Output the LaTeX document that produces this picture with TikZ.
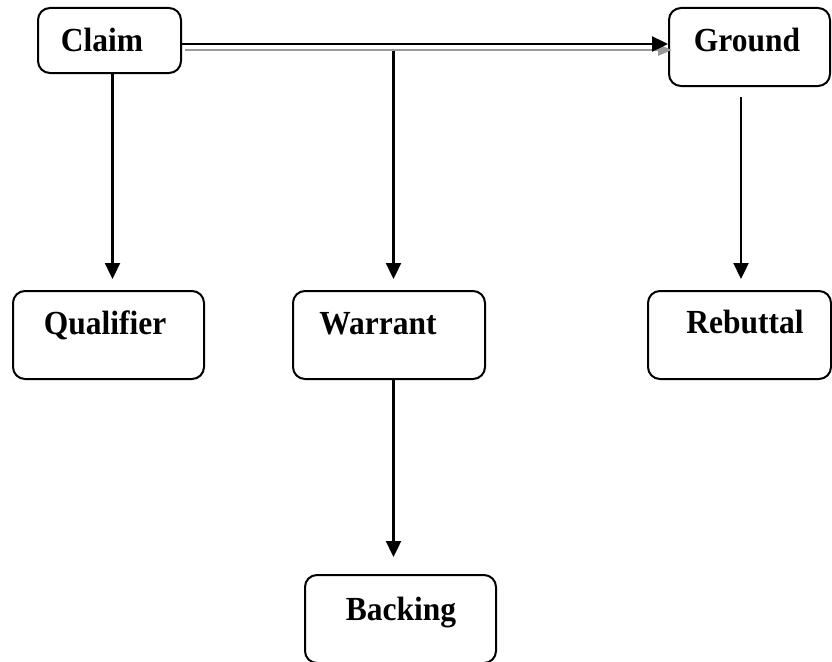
\documentclass[tikz,border=0pt]{standalone}
\usepackage{fontspec}
\setmainfont{Liberation Serif}
\usetikzlibrary{arrows.meta}
\newcommand{\tallt}[1]{\scalebox{1}[1.07]{#1}}
\begin{document}
\begin{tikzpicture}[x=1pt,y=-1pt,
  box/.style={draw=black, line width=2pt, rounded corners=12pt, fill=none, inner sep=0pt},
  lbl/.style={anchor=base, inner sep=0pt, font=\bfseries\fontsize{31.5}{36}\selectfont},
  arr/.style={draw=black, line width=2.3pt, -{Triangle[length=16pt,width=15pt]}},
  garr/.style={draw=gray!80, line width=2.8pt, -{Triangle[length=14pt,width=11pt]}}]
\useasboundingbox (0,0) rectangle (832,661);
\clip (0,0) rectangle (832,661);
% boxes
\node[box, minimum width=143pt, minimum height=65pt] (claim) at (109.5,40.5) {};
\node[box, minimum width=161pt, minimum height=78pt] (ground) at (749.5,47) {};
\node[box, minimum width=191pt, minimum height=88pt] (qual) at (108.5,335) {};
\node[box, minimum width=192pt, minimum height=88pt] (warrant) at (389,335) {};
\node[box, minimum width=183pt, minimum height=88pt] (rebut) at (739.5,335) {};
\node[box, minimum width=191pt, minimum height=88pt] (backing) at (400.5,619) {};
% labels
\node[lbl] (claimt) at (102,52) {\tallt{Claim}};
\node[lbl] (groundt) at (747,52) {\tallt{Ground}};
\node[lbl] (qualt) at (105,334) {\tallt{Qualifier}};
\node[lbl] (warrantt) at (378,334) {\tallt{Warrant}};
\node[lbl] (rebutt) at (745,333) {\tallt{Rebuttal}};
\node[lbl] (backingt) at (401,620) {\tallt{Backing}};
% coordinates for free ends
\coordinate (br) at (393.5,51);
\coordinate (wa) at (393.5,279);
\coordinate (qa) at (112.5,279);
\coordinate (ga) at (741,97);
\coordinate (gb) at (741,279);
\coordinate (wb) at (393.5,557);
% double connector claim -> ground
\draw[garr] ([xshift=3pt,yshift=-9.5pt]claim.east) -- ([xshift=4pt,yshift=-3pt]ground.west);
\draw[arr] ([yshift=-3.5pt]claim.east) -- ([yshift=3pt]ground.west);
% vertical connectors
\draw[arr] (claim.south -| qa) -- (qa);
\draw[arr] (br) -- (wa);
\draw[arr] (ga) -- (gb);
\draw[arr] (warrant.south -| wb) -- (wb);
\end{tikzpicture}
\end{document}
